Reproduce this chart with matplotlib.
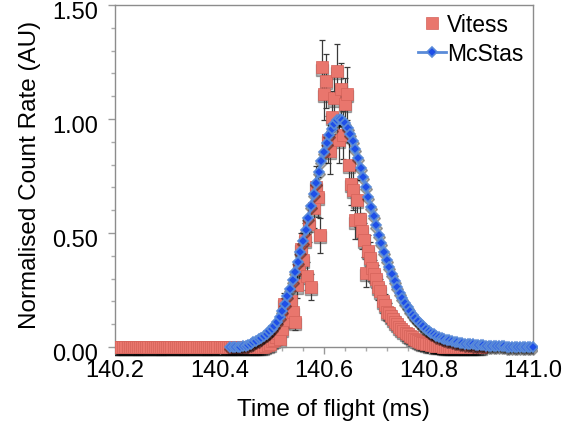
import numpy as np
import matplotlib.pyplot as plt
import matplotlib.transforms as mtransforms
from matplotlib.patches import Rectangle

plt.rcParams['font.family'] = ['Liberation Sans', 'DejaVu Sans']

# Vitess: bins of 0.004 ms starting at 140.200
vitess_start = 140.200
vitess_step = 0.004
vitess_rate = (
    # 140.200 - 140.480 : flat
    [0.0, 0.0, 0.0, 0.0, 0.0, 0.0, 0.0, 0.0, 0.0, 0.0,
     0.0, 0.0, 0.0, 0.0, 0.0, 0.0, 0.0, 0.0, 0.0, 0.0,
     0.0, 0.0, 0.0, 0.0, 0.0, 0.0, 0.0, 0.0, 0.0, 0.0,
     0.0, 0.0, 0.0, 0.0, 0.0, 0.0, 0.0, 0.0, 0.0, 0.0,
     0.0, 0.0, 0.0, 0.0, 0.0, 0.0, 0.0, 0.0, 0.0, 0.0,
     0.0, 0.0, 0.0, 0.0, 0.0, 0.0, 0.0, 0.0, 0.0, 0.0,
     0.0, 0.0, 0.0, 0.0, 0.0, 0.0, 0.0, 0.0, 0.0, 0.0,
     0.0]
    # 140.484 - 140.840 : peak
    + [0.002, 0.004, 0.008, 0.012, 0.025, 0.030, 0.045, 0.060, 0.035, 0.080,
       0.190, 0.155, 0.120, 0.200, 0.155, 0.110, 0.270, 0.340, 0.430, 0.380,
       0.470, 0.310, 0.540, 0.265, 0.610, 0.700, 0.657, 0.490, 1.226, 1.110,
       1.167, 0.910, 0.860, 1.010, 1.090, 1.210, 0.910, 1.130, 0.930, 1.065,
       1.110, 0.800, 0.715, 0.690, 0.555, 0.643, 0.560, 0.510, 0.470, 0.325,
       0.420, 0.390, 0.345, 0.320, 0.300, 0.265, 0.245, 0.200, 0.185, 0.155,
       0.150, 0.135, 0.125, 0.110, 0.100, 0.088, 0.080, 0.070, 0.062, 0.055,
       0.048, 0.042, 0.036, 0.031, 0.027, 0.023, 0.019, 0.016, 0.013, 0.011,
       0.009, 0.007, 0.006, 0.005, 0.004, 0.003, 0.002, 0.002, 0.001, 0.001]
    # 140.844 - 140.900
    + [0.0, 0.0, 0.0, 0.0, 0.0, 0.0, 0.0, 0.0, 0.0, 0.0,
       0.0, 0.0, 0.0, 0.0, 0.0]
)
vitess_err = (
    [0.0] * 71
    + [0.005, 0.007, 0.010, 0.012, 0.017, 0.019, 0.023, 0.027, 0.021, 0.031,
       0.048, 0.043, 0.038, 0.049, 0.043, 0.036, 0.057, 0.064, 0.072, 0.068,
       0.075, 0.061, 0.081, 0.057, 0.086, 0.092, 0.089, 0.077, 0.122, 0.116,
       0.119, 0.105, 0.102, 0.111, 0.115, 0.121, 0.105, 0.117, 0.106, 0.114,
       0.116, 0.098, 0.093, 0.091, 0.082, 0.088, 0.082, 0.079, 0.075, 0.063,
       0.071, 0.069, 0.065, 0.062, 0.060, 0.057, 0.054, 0.049, 0.047, 0.043,
       0.043, 0.040, 0.039, 0.036, 0.035, 0.033, 0.031, 0.029, 0.027, 0.026,
       0.024, 0.023, 0.021, 0.019, 0.018, 0.017, 0.015, 0.014, 0.013, 0.012,
       0.010, 0.009, 0.009, 0.008, 0.007, 0.006, 0.005, 0.005, 0.003, 0.003]
    + [0.0] * 15
)

# McStas: bins of 0.005 ms starting at 140.420
mcstas_start = 140.420
mcstas_step = 0.005
mcstas_rate = [
    0.000, 0.000, 0.000, 0.000, 0.000, 0.003, 0.006, 0.010, 0.015, 0.020,
    0.026, 0.033, 0.040, 0.048, 0.057, 0.068, 0.080, 0.094, 0.110, 0.133,
    0.160, 0.190, 0.222, 0.256, 0.292, 0.331, 0.372, 0.416, 0.463, 0.513,
    0.565, 0.618, 0.670, 0.721, 0.769, 0.814, 0.856, 0.894, 0.928, 0.957,
    0.979, 0.994, 1.000, 0.996, 0.983, 0.962, 0.935, 0.903, 0.867, 0.828,
    0.787, 0.745, 0.702, 0.659, 0.616, 0.574, 0.533, 0.493, 0.455, 0.418,
    0.383, 0.350, 0.319, 0.290, 0.263, 0.238, 0.215, 0.194, 0.175, 0.157,
    0.141, 0.126, 0.113, 0.101, 0.090, 0.080, 0.071, 0.063, 0.056, 0.050,
    0.045, 0.040, 0.036, 0.032, 0.029, 0.026, 0.023, 0.021, 0.019, 0.017,
    0.015, 0.013, 0.012, 0.011, 0.010, 0.009, 0.008, 0.007, 0.006, 0.005,
    0.005, 0.004, 0.004, 0.003, 0.003, 0.003, 0.002, 0.002, 0.002, 0.001,
    0.001, 0.001, 0.001, 0.001, 0.000, 0.000, 0.000,
]

vitess_t = vitess_start + vitess_step * np.arange(len(vitess_rate))
mcstas_t = mcstas_start + mcstas_step * np.arange(len(mcstas_rate))
vitess_rate = np.array(vitess_rate)
vitess_err = np.array(vitess_err)

fig = plt.figure(figsize=(5.64, 4.39), dpi=100)
W, H = 564, 439
L, R, T, B = 115, 533, 6, 348
ax = fig.add_axes([L / W, 1 - B / H, (R - L) / W, (B - T) / H])

clip = Rectangle((0, -0.06), 1.01, 1.12, transform=ax.transAxes, visible=False)
ax.add_patch(clip)

# soft drop shadow under the markers, like the original spreadsheet chart
down = ax.transData + mtransforms.ScaledTranslation(0, -1.5 / 72, fig.dpi_scale_trans)
s1, = ax.plot(vitess_t, vitess_rate, linestyle='none', marker='s', markersize=9,
              color='black', alpha=0.3, transform=down, zorder=1.5)
s2, = ax.plot(mcstas_t, mcstas_rate, linestyle='none', marker='D', markersize=6,
              color='black', alpha=0.3, transform=down, zorder=3.5)

has_err = vitess_err > 0
eb = ax.errorbar(vitess_t[has_err], vitess_rate[has_err], yerr=vitess_err[has_err],
                 fmt='none', ecolor='#3a3a3a', elinewidth=0.9, capsize=2.2, capthick=0.9, zorder=2)

v_line, = ax.plot(vitess_t, vitess_rate, linestyle='none', marker='s', markersize=9,
                  markerfacecolor='#E9766D', markeredgecolor='#D4625A', markeredgewidth=0.5,
                  label='Vitess', zorder=3)
m_line, = ax.plot(mcstas_t, mcstas_rate, color='#5A8BD8', linewidth=2.0, marker='D', markersize=5.5,
                  markerfacecolor='#1E4FE8', markeredgecolor='#5A8BD8', markeredgewidth=1.2,
                  label='McStas', zorder=4)
for art in [s1, s2, v_line, m_line] + list(eb.lines[1]) + list(eb.lines[2]):
    art.set_clip_path(clip)

ax.set_xlim(140.2, 141.0)
ax.set_ylim(0, 1.5)
ax.set_xticks([140.2, 140.4, 140.6, 140.8, 141.0])
ax.set_xticks(np.arange(140.2, 141.001, 0.04), minor=True)
ax.set_yticks([0, 0.5, 1.0, 1.5])
ax.set_yticks(np.arange(0, 1.501, 0.1), minor=True)
ax.xaxis.set_major_formatter(plt.FormatStrFormatter('%.1f'))
ax.yaxis.set_major_formatter(plt.FormatStrFormatter('%.2f'))
ax.tick_params(which='major', direction='out', length=5, width=1, color='#999999',
               labelsize=17, pad=4)
ax.tick_params(which='minor', direction='out', length=3, width=1, color='#aaaaaa')
ax.tick_params(axis='y', which='major', pad=7)
for sp in ax.spines.values():
    sp.set_color('#8c8c8c')
    sp.set_linewidth(1.0)

offset = mtransforms.ScaledTranslation(0, -3 / 72, fig.dpi_scale_trans)
for lab in ax.get_yticklabels():
    lab.set_transform(lab.get_transform() + offset)

ax.set_xlabel('Time of flight (ms)', fontsize=17.5)
ax.xaxis.set_label_coords((333 - L) / (R - L), (B - 410) / (B - T))
ax.set_ylabel('Normalised Count Rate (AU)', fontsize=17.5)
ax.yaxis.set_label_coords((30 - L) / (R - L), (B - 175) / (B - T))
ax.xaxis.label.set_va('center')
ax.yaxis.label.set_va('center')

ax.legend(handles=[v_line, m_line], loc='upper left',
          bbox_to_anchor=(418 / W, 1 - 14 / H), bbox_transform=fig.transFigure,
          frameon=False, fontsize=16.5, handlelength=1.2, handletextpad=0.05,
          labelspacing=0.25, borderpad=0, borderaxespad=0)

fig.savefig('out.png', dpi=100)
